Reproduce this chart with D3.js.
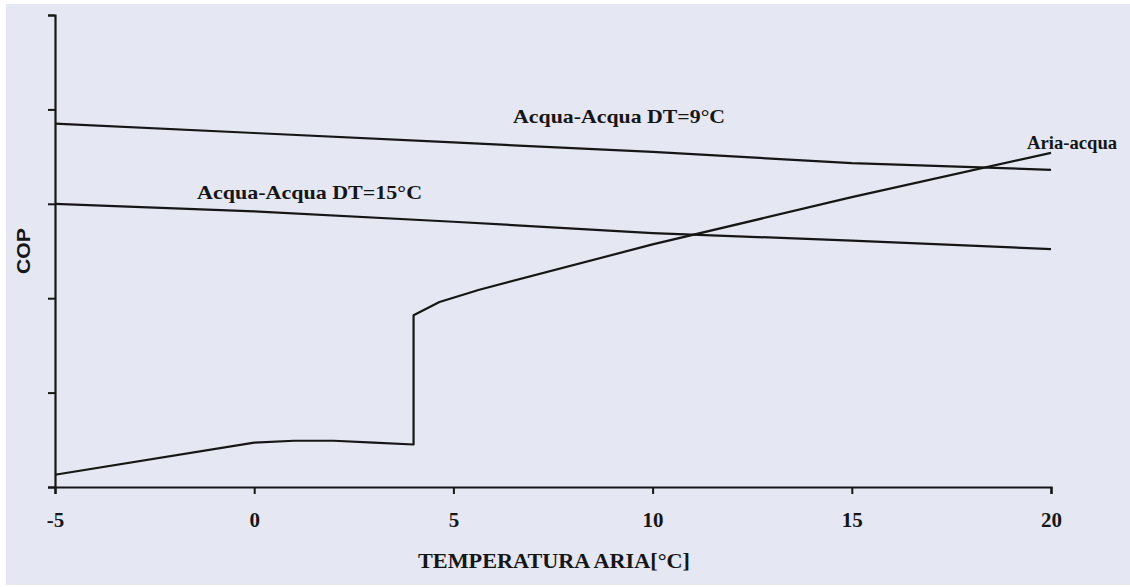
<!DOCTYPE html>
<html>
<head>
<meta charset="utf-8">
<script src="https://cdn.jsdelivr.net/npm/d3@7"></script>
<style>
  html, body { margin: 0; padding: 0; background: #ffffff; }
  svg { display: block; }
</style>
</head>
<body>
<svg id="chart" width="1130" height="587"></svg>
<script>
// Air temperature (°C) and COP readings for each heat pump configuration
const tempWater = [-5, 0, 5, 10, 15, 20];
const copDT9 = [3.85, 3.75, 3.65, 3.55, 3.43, 3.36];
const copDT15 = [3.00, 2.92, 2.81, 2.69, 2.61, 2.52];

const tempAir = [-5, 0, 1, 2, 3, 4, 4, 4.65, 5.65, 10, 15, 20];
const copAir = [0.13, 0.47, 0.49, 0.49, 0.47, 0.45, 1.82, 1.96, 2.09, 2.57, 3.07, 3.54];

const xTicks = [-5, 0, 5, 10, 15, 20];
const yTicks = [0, 1, 2, 3, 4, 5];

const seriesLabels = [
  { text: "Acqua-Acqua DT=9°C", x: 9.16, y: 3.86, len: 212 },
  { text: "Acqua-Acqua DT=15°C", x: 1.39, y: 3.05, len: 225 },
  { text: "Aria-acqua", x: 20.53, y: 3.58, len: 90 }
];

const svg = d3.select("#chart");
const ink = "#161616";

// scanned-paper backdrop
svg.append("rect")
  .attr("x", 6).attr("y", 4)
  .attr("width", 1124).attr("height", 581)
  .attr("fill", "#e5e8f3");

const x = d3.scaleLinear().domain([-5, 20]).range([55, 1051]);
const y = d3.scaleLinear().domain([0, 5]).range([487, 15]);

// x axis
const gx = svg.append("g")
  .attr("transform", `translate(0,${y(0)})`)
  .call(d3.axisBottom(x).tickValues(xTicks).tickSize(7).tickSizeOuter(7)
    .tickFormat(d => String(d)));
gx.select(".domain").attr("stroke", ink).attr("stroke-width", 2.2);
gx.selectAll(".tick line").attr("stroke", ink).attr("stroke-width", 2);
gx.selectAll(".tick text")
  .attr("y", 40).attr("dy", 0)
  .attr("fill", ink)
  .style("font-family", "'Liberation Serif', 'Times New Roman', serif")
  .style("font-weight", "bold")
  .style("font-size", "21px");

// y axis (no value labels)
const gy = svg.append("g")
  .attr("transform", `translate(${x(-5)},0)`)
  .call(d3.axisLeft(y).tickValues(yTicks).tickSize(7).tickSizeOuter(7).tickFormat(""));
gy.select(".domain").attr("stroke", ink).attr("stroke-width", 2.2);
gy.selectAll(".tick line").attr("stroke", ink).attr("stroke-width", 2);

// axis titles
svg.append("text")
  .attr("x", 554).attr("y", 568)
  .attr("text-anchor", "middle")
  .attr("textLength", 272).attr("lengthAdjust", "spacingAndGlyphs")
  .attr("fill", ink)
  .style("font-family", "'Liberation Serif', 'Times New Roman', serif")
  .style("font-weight", "bold")
  .style("font-size", "21px")
  .text("TEMPERATURA ARIA[°C]");

svg.append("text")
  .attr("transform", "translate(30,251) rotate(-90)")
  .attr("text-anchor", "middle")
  .attr("textLength", 46).attr("lengthAdjust", "spacingAndGlyphs")
  .attr("fill", ink)
  .style("font-family", "'Liberation Sans', Arial, sans-serif")
  .style("font-weight", "bold")
  .style("font-size", "19px")
  .text("COP");

// curves
const line = d3.line().x(d => x(d[0])).y(d => y(d[1]));
const curves = [
  d3.zip(tempWater, copDT9),
  d3.zip(tempWater, copDT15),
  d3.zip(tempAir, copAir)
];
svg.append("g").selectAll("path")
  .data(curves)
  .join("path")
  .attr("d", line)
  .attr("fill", "none")
  .attr("stroke", ink)
  .attr("stroke-width", 2.2)
  .attr("stroke-linejoin", "round");

// series labels
svg.append("g").selectAll("text")
  .data(seriesLabels)
  .join("text")
  .attr("x", d => x(d.x))
  .attr("y", d => y(d.y))
  .attr("text-anchor", "middle")
  .attr("textLength", d => d.len).attr("lengthAdjust", "spacingAndGlyphs")
  .attr("fill", ink)
  .style("font-family", "'Liberation Serif', 'Times New Roman', serif")
  .style("font-weight", "bold")
  .style("font-size", "19px")
  .text(d => d.text);
</script>
</body>
</html>
